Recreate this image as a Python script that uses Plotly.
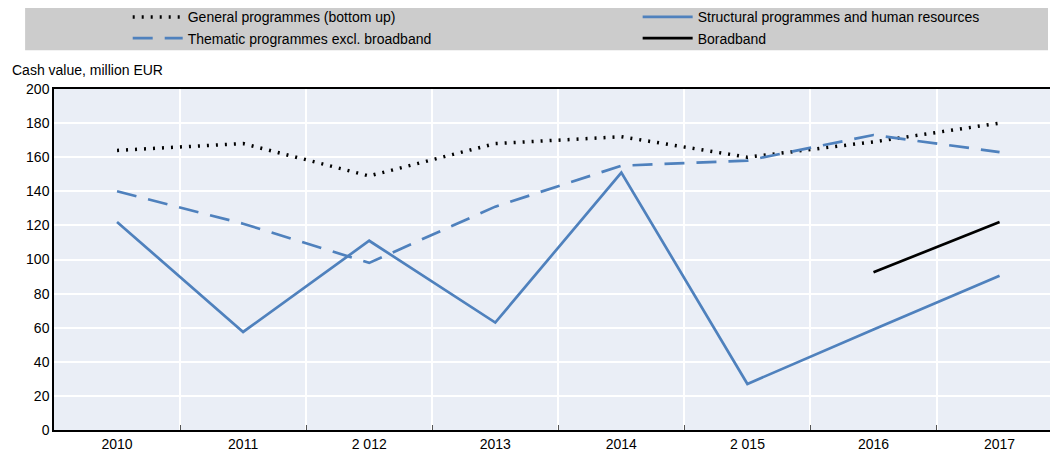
import plotly.graph_objects as go

years = ["2010", "2011", "2 012", "2013", "2014", "2 015", "2016", "2017"]
general = [164, 168, 149, 168, 172, 160, 169, 180]
structural = [122, 57.5, 111, 63, 151, 27, 59, 90.5]
thematic = [140, 121, 98, 131, 155, 158, 173, 163]
broadband = [None, None, None, None, None, None, 92.5, 122]

BLUE = "#4F81BD"
FONT = "Liberation Sans, Arial, sans-serif"
FS = 14

fig = go.Figure()
fig.add_trace(go.Scatter(x=years, y=general, mode="lines", name="General programmes (bottom up)",
                         legend="legend",
                         line=dict(color="black", width=3.5, dash="2px,7px")))
fig.add_trace(go.Scatter(x=years, y=structural, mode="lines", name="Structural programmes and human resources",
                         legend="legend2",
                         line=dict(color=BLUE, width=2.7)))
fig.add_trace(go.Scatter(x=years, y=thematic, mode="lines", name="Thematic programmes excl. broadband",
                         legend="legend",
                         line=dict(color=BLUE, width=2.7, dash="20px,12px")))
fig.add_trace(go.Scatter(x=years, y=broadband, mode="lines", name="Boradband",
                         legend="legend2",
                         line=dict(color="black", width=2.7)))

leg_common = dict(orientation="v", yanchor="top", y=1.257, xanchor="left",
                  bgcolor="rgba(0,0,0,0)", font=dict(family=FONT, size=FS),
                  tracegroupgap=0, itemwidth=50, traceorder="normal")

fig.update_layout(
    width=1051, height=451,
    margin=dict(l=54, r=1, t=89, b=21, autoexpand=False),
    paper_bgcolor="white",
    plot_bgcolor="#EAEEF6",
    font=dict(family=FONT, size=FS, color="black"),
    showlegend=True,
    legend=dict(x=0.074, **leg_common),
    legend2=dict(x=0.586, **leg_common),
    shapes=[dict(type="rect", xref="paper", yref="paper", x0=-0.029, x1=0.998,
                 y0=1.114, y1=1.2375, fillcolor="#CCCCCC", line=dict(width=0), layer="below")],
    annotations=[dict(text="Cash value, million EUR", xref="paper", yref="paper",
                      x=-0.0442, y=1.056, xanchor="left", yanchor="middle", showarrow=False,
                      font=dict(family=FONT, size=FS))],
)
fig.update_xaxes(type="category", range=[-0.5, 7.4], tickson="boundaries",
                 showgrid=True, gridcolor="white", gridwidth=1.5,
                 showline=True, linecolor="black", linewidth=1.5, mirror=True,
                 ticks="inside", ticklen=5, tickcolor="#555555",
                 tickfont=dict(family=FONT, size=FS))
fig.update_yaxes(range=[0, 200], dtick=20, showgrid=True, gridcolor="white", gridwidth=1.5,
                 showline=True, linecolor="black", linewidth=1.5, ticks="",
                 zeroline=False, tickfont=dict(family=FONT, size=FS))

fig.write_html("out.html", config={"displayModeBar": False},
               post_script="document.body.style.margin='0';document.body.style.overflow='hidden';")
